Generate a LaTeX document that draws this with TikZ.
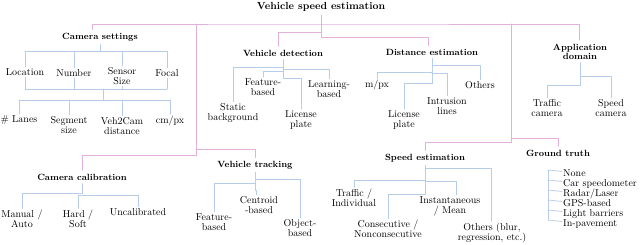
\documentclass[tikz,border=0pt]{standalone}
\definecolor{pinkline}{RGB}{226,176,220}
\definecolor{blueline}{RGB}{182,204,232}
\begin{document}
\begin{tikzpicture}[x=1pt, y=-1pt, line join=round, line cap=round, font=\fontsize{10}{10}\selectfont]
			\tikzset{ttl/.style={font=\fontsize{10.3}{11}\selectfont\bfseries},
				head/.style={font=\fontsize{9}{9}\selectfont\bfseries, align=center},
				leaf/.style={align=center, inner sep=1.5pt},
				pk/.style={pinkline, line width=.75pt},
				bl/.style={blueline, line width=.75pt}}
			\useasboundingbox (0,0) rectangle (640,245);
			% headings
			\node[ttl] (vse) at (321,7) {Vehicle speed estimation};
			\node[head] (cs) at (100,37) {Camera settings};
			\node[head] (vd) at (283,53) {Vehicle detection};
			\node[head] (de) at (432,52) {Distance estimation};
			\node[head] (ad) at (580,51.5) {Application\\domain};
			\node[head] (cc) at (82,177) {Camera calibration};
			\node[head] (vt) at (255,165) {Vehicle tracking};
			\node[head] (se) at (425,158) {Speed estimation};
			\node[head] (gt) at (558,153) {Ground truth};
			% leaves
			\node[leaf] (loc) at (25,72) {Location};
			\node[leaf] (num) at (74,73) {Number};
			\node[leaf] (ss) at (122,76) {Sensor\\Size};
			\node[leaf] (foc) at (167,73) {Focal};
			\node[leaf] (lan) at (19,120) {\# Lanes};
			\node[leaf] (seg) at (69,125) {Segment\\size};
			\node[leaf] (v2c) at (122,126) {Veh2Cam\\distance};
			\node[leaf] (cmpx) at (170,121) {cm/px};
			\node[leaf] (sbg) at (233,113) {Static\\background};
			\node[leaf] (fb) at (263,87) {Feature-\\based};
			\node[leaf] (lp1) at (301,120) {License\\plate};
			\node[leaf] (lb) at (329,89) {Learning-\\based};
			\node[leaf] (mpx) at (377,85) {m/px};
			\node[leaf] (lp2) at (404,120) {License\\plate};
			\node[leaf] (il) at (447,106) {Intrusion\\lines};
			\node[leaf] (oth) at (480,85) {Others};
			\node[leaf] (tc) at (547,108) {Traffic\\camera};
			\node[leaf] (sc) at (611,108) {Speed\\camera};
			\node[leaf] (ma) at (22,219) {Manual /\\Auto};
			\node[leaf] (hs) at (78,219) {Hard /\\Soft};
			\node[leaf] (unc) at (138,212) {Uncalibrated};
			\node[leaf] (fb2) at (214,222) {Feature-\\based};
			\node[leaf] (cb) at (259,205) {Centroid\\-based};
			\node[leaf] (ob) at (300,228) {Object-\\based};
			\node[leaf] (ti) at (354,198) {Traffic /\\Individual};
			\node[leaf] (cn) at (388,229) {Consecutive /\\Nonconsecutive};
			\node[leaf] (im) at (450,206) {Instantaneous\\/ Mean};
			\node[leaf] (ob2) at (492,233) {Others (blur,\\regression, etc.)};
			\foreach \t [count=\i] in {None, Car speedometer, Radar/Laser, GPS-based, Light barriers, In-pavement}{
				\node[leaf, inner sep=0pt, anchor=base west] (gt\i) at (563,{166.5+10*\i}) {\t};
				\draw[bl] ([xshift=-15pt, yshift=6.5pt]gt\i.base west) -- ([xshift=-1pt, yshift=5pt]gt\i.base west);
			}
			% pink tree
			\path (321,24) coordinate (bus)
			(196,24) coordinate (jl) (196,155) coordinate (jlb)
			(511,24) coordinate (jr) (511,142) coordinate (jrb);
			\draw[pk] ([xshift=-8pt]cs.north) |- (bus) -| ([xshift=-1pt]ad.north);
			\draw[pk] (vse.south) -- (321,37) -| ([xshift=-4pt]de.north);
			\draw[pk] (321,32) -| ([xshift=-5pt]vd.north);
			\draw[pk] (jl) -- (jlb) -| (cc.north);
			\draw[pk] (196,149) -| (vt.north);
			\draw[pk] (jr) -- (jrb) -| (se.north);
			\draw[pk] (511,138) -| (gt.north);
			% camera settings
			\path (cs.south) ++(0,7) coordinate (csj) (103,89) coordinate (csb) (103,100) coordinate (csc);
			\draw[bl] (cs.south) -- (csj);
			\draw[bl] (loc.north |- csj) -- (foc.north |- csj);
			\foreach \n in {loc,num,ss,foc}{
				\draw[bl] (\n.north) -- (\n.north |- csj);
				\draw[bl] (\n.south) -- (\n.south |- csb);
			}
			\draw[bl] (loc.south |- csb) -- (foc.south |- csb) (csb) -- (csc);
			\draw[bl] (lan.north |- csc) -- (cmpx.north |- csc);
			\foreach \n in {lan,seg,v2c,cmpx}
				\draw[bl] (\n.north) -- (\n.north |- csc);
			% vehicle detection
			\draw[bl] (vd.south) -- ++(0,8) -| (sbg.north);
			\draw[bl] (vd.south) ++(0,12) -| (fb.north);
			\draw[bl] (vd.south) ++(0,10) -| (lb.north);
			\draw[bl] (vd.south) -- ++(0,19) -| (lp1.north);
			% distance estimation
			\draw[bl] (de.south) -- ++(0,7) -| (oth.north);
			\draw[bl] (de.south) ++(0,14) -| (mpx.north);
			\draw[bl] (de.south) ++(0,15) -| (il.north);
			\draw[bl] (de.south) -- ++(0,25) -| (lp2.north);
			% application domain
			\draw[bl] (ad.south) -- ++(0,14) -| (sc.north);
			\draw[bl] (ad.south) -- ++(0,23) -| (tc.north);
			% camera calibration
			\draw[bl] (cc.south) -- ++(0,10) -| (ma.north);
			\draw[bl] (cc.south) ++(0,12) -| (hs.north);
			\draw[bl] (cc.south) ++(0,12) -| (unc.north);
			% vehicle tracking
			\draw[bl] (vt.south) -- ++(0,7) -| (ob.north);
			\draw[bl] (vt.south) ++(0,11) -| (fb2.north);
			\draw[bl] (vt.south) -- ++(0,18) -| ([xshift=-3pt]cb.north);
			% speed estimation
			\draw[bl] (se.south) -- ++(0,3) -| ([xshift=-1pt]ob2.north);
			\draw[bl] (se.south) ++(0,15) -| (ti.north);
			\draw[bl] (se.south) ++(0,16) -| ([xshift=6pt]im.north);
			\draw[bl] (se.south) -- ++(0,29) -| (cn.north);
			% ground truth
			\draw[bl] ([xshift=-15pt, yshift=6.5pt]gt1.base west) -- ([xshift=-15pt, yshift=6.5pt]gt6.base west);
		\end{tikzpicture}
\end{document}
